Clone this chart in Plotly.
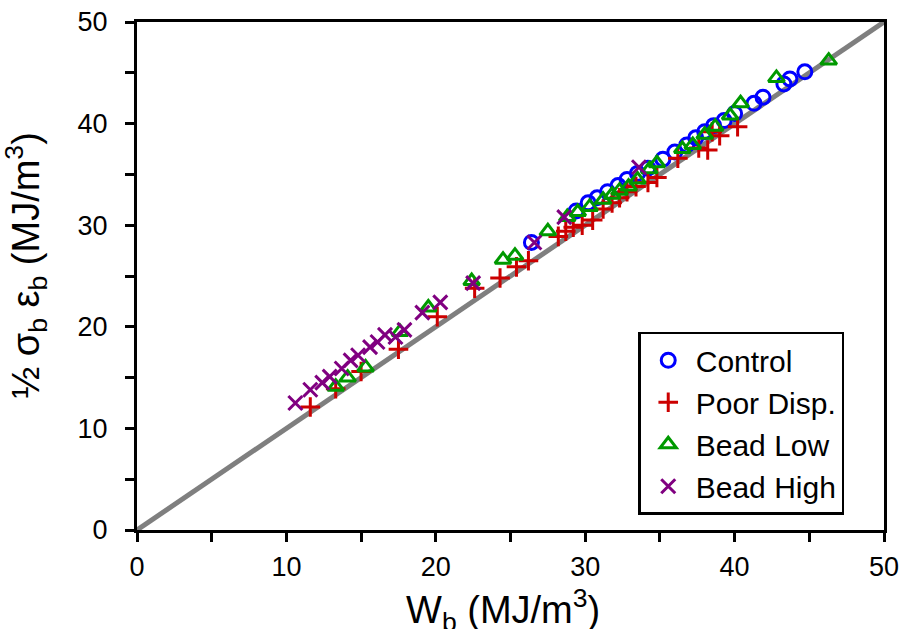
import plotly.graph_objects as go

# Control (blue open circles)
control_x = [26.4, 29.4, 30.2, 30.8, 31.5, 32.2, 32.8, 33.5, 34.2, 35.2, 36.0, 36.8, 37.4, 38.0, 38.6, 39.3, 40.0, 41.3, 41.9, 43.3, 43.7, 44.7]
control_y = [28.3, 31.4, 32.2, 32.7, 33.3, 33.9, 34.5, 35.1, 35.6, 36.5, 37.2, 37.9, 38.6, 39.2, 39.8, 40.3, 41.0, 42.0, 42.6, 43.9, 44.4, 45.1]

# Poor Disp. (red plus)
poor_x = [11.6, 13.3, 15.0, 17.5, 20.1, 22.6, 24.3, 25.4, 26.2, 28.2, 28.7, 29.2, 29.8, 30.5, 31.2, 31.8, 32.3, 32.8, 33.4, 34.2, 34.8, 36.2, 37.6, 38.2, 38.5, 39.0, 40.2]
poor_y = [12.1, 13.9, 15.6, 17.8, 21.0, 23.8, 24.8, 25.9, 26.5, 28.9, 29.4, 29.8, 30.0, 30.5, 31.6, 32.2, 32.7, 33.3, 33.8, 34.2, 34.7, 36.6, 37.6, 37.4, 39.2, 38.8, 39.7]

# Bead Low (green open triangles)
low_x = [13.3, 14.1, 15.3, 17.6, 19.5, 22.4, 24.5, 25.3, 27.5, 28.8, 29.5, 30.3, 31.2, 31.8, 32.3, 32.9, 33.5, 34.3, 34.8, 36.5, 37.2, 38.0, 38.7, 39.7, 40.4, 42.8, 46.3]
low_y = [14.1, 15.0, 16.0, 19.5, 21.9, 24.5, 26.6, 27.0, 29.4, 30.8, 31.3, 31.8, 32.5, 33.0, 33.4, 33.8, 34.5, 35.5, 36.1, 37.5, 37.9, 38.9, 39.7, 40.8, 42.0, 44.5, 46.2]

# Bead High (purple x)
high_x = [10.6, 11.6, 12.4, 12.9, 13.7, 14.3, 14.8, 15.6, 16.1, 16.6, 17.3, 17.9, 19.1, 20.3, 22.5, 26.6, 28.6, 33.6]
high_y = [12.5, 13.8, 14.5, 15.1, 15.9, 16.7, 17.2, 18.0, 18.5, 19.2, 19.0, 19.7, 21.4, 22.4, 24.3, 28.3, 30.8, 35.7]

# 1:1 reference line
ref_x = [0, 50]
ref_y = [0, 50]

x_title = "W<sub>b</sub> (MJ/m<sup>3</sup>)"
y_title = "½ σ<sub>b</sub> ε<sub>b</sub> (MJ/m<sup>3</sup>)"

FONT = "Liberation Sans, Arial, sans-serif"

fig = go.Figure()
fig.add_trace(go.Scatter(x=ref_x, y=ref_y, mode="lines",
                         line=dict(color="#7f7f7f", width=5),
                         showlegend=False, hoverinfo="skip"))

series = [
    ("Control", control_x, control_y, "circle-open", "#0000ff"),
    ("Poor Disp.", poor_x, poor_y, "cross-thin-open", "#cc0000"),
    ("Bead Low", low_x, low_y, "triangle-up-open", "#009900"),
    ("Bead High", high_x, high_y, "x-thin-open", "#800080"),
]
for name, xs, ys, sym, col in series:
    fig.add_trace(go.Scatter(
        x=xs, y=ys, mode="markers", name=name,
        marker=dict(symbol=sym, size=14, color=col,
                    line=dict(color=col, width=3)),
    ))

axis_common = dict(
    range=[0, 50], dtick=10, tick0=0,
    showline=True, linecolor="black", linewidth=3, mirror=True,
    ticks="outside", ticklen=9, tickwidth=2.5, tickcolor="black",
    minor=dict(dtick=5, ticks="outside", ticklen=9, tickwidth=2.5, tickcolor="black"),
    showgrid=False, zeroline=False,
    tickfont=dict(family=FONT, size=27, color="black"),
)

fig.update_layout(
    width=903, height=629,
    margin=dict(l=137, r=19, t=22, b=99, autoexpand=False),
    paper_bgcolor="white", plot_bgcolor="white",
    font=dict(family=FONT, color="black"),
    xaxis=dict(**axis_common, ticklabelstandoff=2),
    yaxis=dict(**axis_common, ticklabelstandoff=12),
    legend=dict(x=0.671, y=0.03, xanchor="left", yanchor="bottom",
                bordercolor="black", borderwidth=2.5, bgcolor="white",
                font=dict(family=FONT, size=30, color="black"),
                itemwidth=45, tracegroupgap=0),
    annotations=[
        dict(text=x_title, xref="paper", yref="paper", x=0.49, y=-0.1,
             xanchor="center", yanchor="top", showarrow=False,
             font=dict(family=FONT, size=38, color="black")),
        dict(text=y_title, xref="paper", yref="paper", x=-0.149, y=0.52,
             xanchor="center", yanchor="middle", textangle=-90, showarrow=False,
             font=dict(family=FONT, size=38, color="black")),
    ],
)

fig.write_html("out.html")
